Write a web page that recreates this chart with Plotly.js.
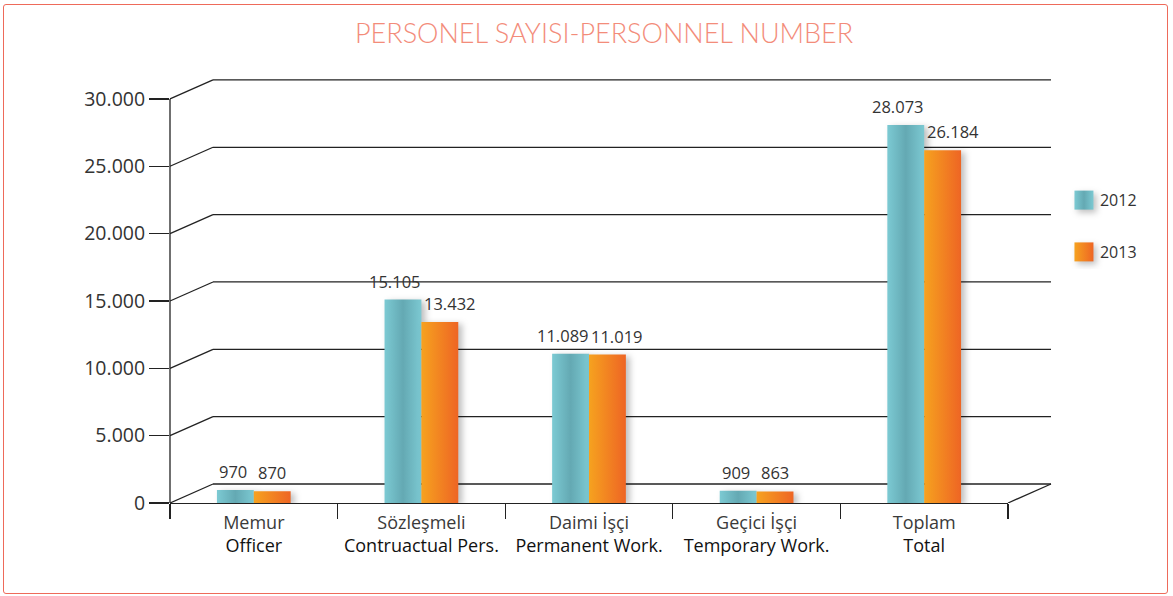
<!DOCTYPE html>
<html>
<head>
<meta charset="utf-8">
<script src="https://cdn.plot.ly/plotly-3.0.1.min.js"></script>
<style>
  html, body { margin: 0; padding: 0; background: #fff; }
  #wrap { position: relative; width: 1173px; height: 596px; }
  #chart { width: 1173px; height: 596px; }
  #frame { position: absolute; left: 3px; top: 4px; width: 1163px; height: 588px;
           border: 1.5px solid #EE6A5A; border-radius: 3px; pointer-events: none; }
</style>
</head>
<body>
<div id="wrap"><div id="chart"></div><div id="frame"></div></div>
<script>
const categories = [
  'Memur<br>Officer',
  'Sözleşmeli<br>Contruactual Pers.',
  'Daimi İşçi<br>Permanent Work.',
  'Geçici İşçi<br>Temporary Work.',
  'Toplam<br>Total'
];
const values2012 = [970, 15105, 11089, 909, 28073];
const values2013 = [870, 13432, 11019, 863, 26184];
const seriesNames = ['2012', '2013'];
const tickValues = [0, 5000, 10000, 15000, 20000, 25000, 30000];

const W = 1173, H = 596;
const mL = 170, mR = 165, mT = 72, mB = 93;
const plotW = W - mL - mR, plotH = H - mT - mB;
const yMax = 32000;
const pxPerUnit = plotH / yMax;
const depthPx = 19, depthXpx = 43;
const dy = depthPx / pxPerUnit;
const dx = depthXpx / plotW;
const bargap = 0.56;
const barPx = plotW / categories.length * (1 - bargap) / 2;

const lineStyle = {color: '#222', width: 1.3};
const shapes = [];
tickValues.forEach(v => {
  shapes.push({type: 'line', xref: 'paper', yref: 'y', x0: 0, x1: dx, y0: v, y1: v + dy, line: lineStyle, layer: 'below'});
  shapes.push({type: 'line', xref: 'paper', yref: 'y', x0: dx, x1: 1 + dx, y0: v + dy, y1: v + dy, line: lineStyle, layer: 'below'});
});
shapes.push({type: 'line', xref: 'paper', yref: 'y', x0: 1, x1: 1 + dx, y0: 0, y1: dy, line: lineStyle, layer: 'below'});
shapes.push({type: 'line', xref: 'paper', yref: 'y', x0: 0, x1: 0, y0: 0, y1: tickValues[tickValues.length - 1], line: lineStyle, layer: 'above'});

const fmt = v => v.toLocaleString('de-DE');
const labelFont = {family: 'Open Sans, sans-serif', size: 16.5, color: '#333'};
const annotations = [];
[values2012, values2013].forEach((vals, s) => {
  vals.forEach((v, i) => {
    const txt = fmt(v);
    const wide = txt.length > 3;
    const base = (s === 0 ? -1 : 1) * barPx / 2;
    const extra = wide ? (s === 0 ? -8 : 10) : (s === 0 ? -2 : 0);
    annotations.push({
      x: categories[i], y: v, xref: 'x', yref: 'y', text: txt, showarrow: false,
      xanchor: 'center', yanchor: 'bottom', xshift: base + extra, yshift: 5, font: labelFont
    });
  });
});

const categoryLabels = categories.map(c => {
  const parts = c.split('<br>');
  return '<span style="color:#3a3a3a">' + parts[0] + '</span><br><span style="color:#111">' + parts[1] + '</span>';
});

const traces = [
  {type: 'bar', name: seriesNames[0], x: categories, y: values2012, marker: {color: '#74C2CC'}, legendgroup: 'a', hoverinfo: 'y'},
  {type: 'bar', name: seriesNames[1], x: categories, y: values2013, marker: {color: '#F2832A'}, legendgroup: 'b', hoverinfo: 'y'}
];

const layout = {
  width: W, height: H,
  margin: {l: mL, r: mR, t: mT, b: mB},
  paper_bgcolor: '#fff', plot_bgcolor: 'rgba(0,0,0,0)',
  separators: ',.',
  title: {
    text: 'PERSONEL SAYISI-PERSONNEL NUMBER',
    font: {family: 'Lato, sans-serif', size: 27, weight: 300, color: '#F38C7A'},
    x: 0.515, xanchor: 'center', y: 0.943, yanchor: 'middle'
  },
  barmode: 'group', bargap: bargap, bargroupgap: 0,
  xaxis: {
    type: 'category', showgrid: false, showline: true, linecolor: '#222', linewidth: 1.3,
    ticks: 'outside', tickson: 'boundaries', ticklen: 15, tickcolor: '#222', tickwidth: 1.3,
    tickfont: {family: 'Open Sans, sans-serif', size: 18, color: '#222'},
    ticklabelstandoff: 3,
    tickvals: categories, ticktext: categoryLabels,
    fixedrange: true
  },
  yaxis: {
    range: [0, yMax], tickvals: tickValues, tickformat: ',d',
    showgrid: false, zeroline: false, showline: false,
    ticks: 'outside', ticklen: 20, tickcolor: '#222', tickwidth: 1.3,
    tickfont: {family: 'Open Sans, sans-serif', size: 19.5, color: '#333'},
    fixedrange: true
  },
  showlegend: true,
  legend: {
    x: 1.062, xanchor: 'left', y: 0.742, yanchor: 'top',
    font: {family: 'Open Sans, sans-serif', size: 16, color: '#333'},
    tracegroupgap: 28, traceorder: 'grouped', bgcolor: 'rgba(0,0,0,0)'
  },
  annotations: annotations,
  shapes: shapes
};

Plotly.newPlot('chart', traces, layout, {displayModeBar: false, staticPlot: true}).then(gd => {
  const svg = gd.querySelector('svg.main-svg');
  const ns = 'http://www.w3.org/2000/svg';
  let defs = svg.querySelector('defs');
  if (!defs) { defs = document.createElementNS(ns, 'defs'); svg.insertBefore(defs, svg.firstChild); }
  function grad(id, stops) {
    const g = document.createElementNS(ns, 'linearGradient');
    g.setAttribute('id', id);
    g.setAttribute('x1', '0'); g.setAttribute('x2', '1'); g.setAttribute('y1', '0'); g.setAttribute('y2', '0');
    stops.forEach(s => {
      const st = document.createElementNS(ns, 'stop');
      st.setAttribute('offset', s[0]); st.setAttribute('stop-color', s[1]);
      g.appendChild(st);
    });
    defs.appendChild(g);
  }
  grad('g2012', [['0', '#7CCAD3'], ['0.5', '#64A9B3'], ['1', '#7CC9D2']]);
  grad('g2013', [['0', '#F6A21F'], ['1', '#EE6524']]);
  const ids = ['g2012', 'g2013'];
  gd.querySelectorAll('.barlayer .trace.bars').forEach((t, i) => {
    t.querySelectorAll('path').forEach(p => {
      p.style.fill = 'url(#' + ids[i] + ')';
      p.style.filter = 'drop-shadow(4px 2px 3px rgba(0,0,0,0.25))';
    });
  });
  gd.querySelectorAll('.legend .traces').forEach((t, i) => {
    t.querySelectorAll('.legendpoints path').forEach(p => {
      p.setAttribute('d', 'M13.5,9.5H-5.5V-9.5H13.5Z');
      p.style.fill = 'url(#' + ids[i] + ')';
      p.style.filter = 'drop-shadow(3px 3px 3px rgba(0,0,0,0.25))';
    });
  });
});
</script>
</body>
</html>
